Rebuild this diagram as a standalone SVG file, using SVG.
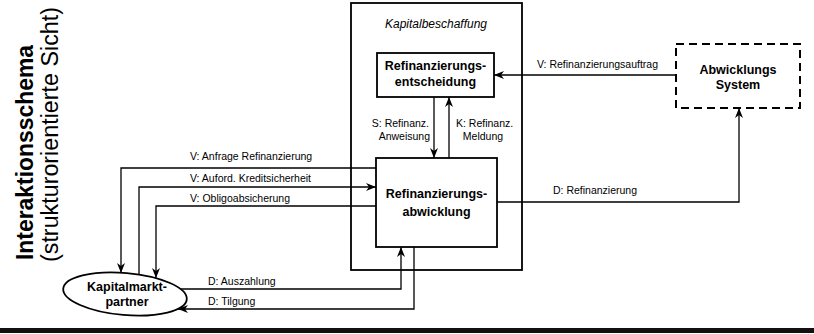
<svg xmlns="http://www.w3.org/2000/svg" width="814" height="334" viewBox="0 0 814 334">
<style>
text{font-family:"Liberation Sans",Arial,sans-serif;fill:#000}
.lbl{font-size:10.5px}
.node{font-size:12.5px;font-weight:bold;text-anchor:middle}
.box{fill:#fff;stroke:#000;stroke-width:1.8}
.conn{fill:none;stroke:#000;stroke-width:1.3}
</style>
<defs>
<marker id="arr" viewBox="0 0 10 8" refX="10" refY="4" markerWidth="10" markerHeight="8" markerUnits="userSpaceOnUse" orient="auto">
<path d="M0,0 L10,4 L0,8 L3,4 z" fill="#000"/>
</marker>
</defs>
<rect x="0" y="0" width="814" height="334" fill="#fff"/>

<g id="title">
<text transform="translate(33,260) rotate(-90)" style="font-size:23px;font-weight:bold" textLength="215" lengthAdjust="spacingAndGlyphs">Interaktionsschema</text>
<text transform="translate(58,262) rotate(-90)" style="font-size:23px" textLength="255" lengthAdjust="spacingAndGlyphs">(strukturorientierte Sicht)</text>
</g>

<g id="kapitalbeschaffung">
<rect x="351" y="3" width="171" height="267" fill="none" stroke="#000" stroke-width="1.8"/>
<text x="436" y="28" style="font-size:12px;font-style:italic" text-anchor="middle">Kapitalbeschaffung</text>
</g>

<g id="connectors">
<path class="conn" d="M676,75 H494" marker-end="url(#arr)"/>
<path class="conn" d="M434,97 V158" marker-end="url(#arr)"/>
<path class="conn" d="M449,158 V97" marker-end="url(#arr)"/>
<path class="conn" d="M376,168 H121 V273" marker-end="url(#arr)"/>
<path class="conn" d="M139,274.6 V187 H376" marker-end="url(#arr)"/>
<path class="conn" d="M376,206 H156 V278" marker-end="url(#arr)"/>
<path class="conn" d="M497,202 H739 V108" marker-end="url(#arr)"/>
<path class="conn" d="M181,289 H401 V247" marker-end="url(#arr)"/>
<path class="conn" d="M414,247 V309 H178" marker-end="url(#arr)"/>
<text class="lbl" x="537" y="68">V: Refinanzierungsauftrag</text>
<text class="lbl" x="429" y="127" text-anchor="end">S: Refinanz.</text>
<text class="lbl" x="430" y="140" text-anchor="end">Anweisung</text>
<text class="lbl" x="456" y="127">K: Refinanz.</text>
<text class="lbl" x="483" y="140" text-anchor="middle">Meldung</text>
<text class="lbl" x="190" y="160">V: Anfrage Refinanzierung</text>
<text class="lbl" x="190" y="182">V: Auford. Kreditsicherheit</text>
<text class="lbl" x="190" y="202">V: Obligoabsicherung</text>
<text class="lbl" x="553" y="194">D: Refinanzierung</text>
<text class="lbl" x="208" y="285">D: Auszahlung</text>
<text class="lbl" x="208" y="305">D: Tilgung</text>
</g>

<g id="entscheidung">
<rect class="box" x="377" y="53" width="117" height="44"/>
<text class="node" x="435.5" y="70">Refinanzierungs-</text>
<text class="node" x="435.5" y="86">entscheidung</text>
</g>

<g id="abwicklung">
<rect class="box" x="376" y="158" width="121" height="89"/>
<text class="node" x="436.5" y="198">Refinanzierungs-</text>
<text class="node" x="436.5" y="216">abwicklung</text>
</g>

<g id="abwicklungssystem">
<rect x="676" y="44" width="124" height="64" fill="#fff" stroke="#000" stroke-width="2" stroke-dasharray="8 5"/>
<text class="node" x="738" y="74">Abwicklungs</text>
<text class="node" x="738" y="89">System</text>
</g>

<g id="kapitalmarktpartner">
<ellipse cx="125" cy="294" rx="62" ry="21" transform="rotate(5 125 294)" fill="#fff" stroke="#000" stroke-width="1.8"/>
<text class="node" x="127" y="291">Kapitalmarkt-</text>
<text class="node" x="127" y="306">partner</text>
</g>

<rect x="0" y="328" width="814" height="5" fill="#111"/>
</svg>
